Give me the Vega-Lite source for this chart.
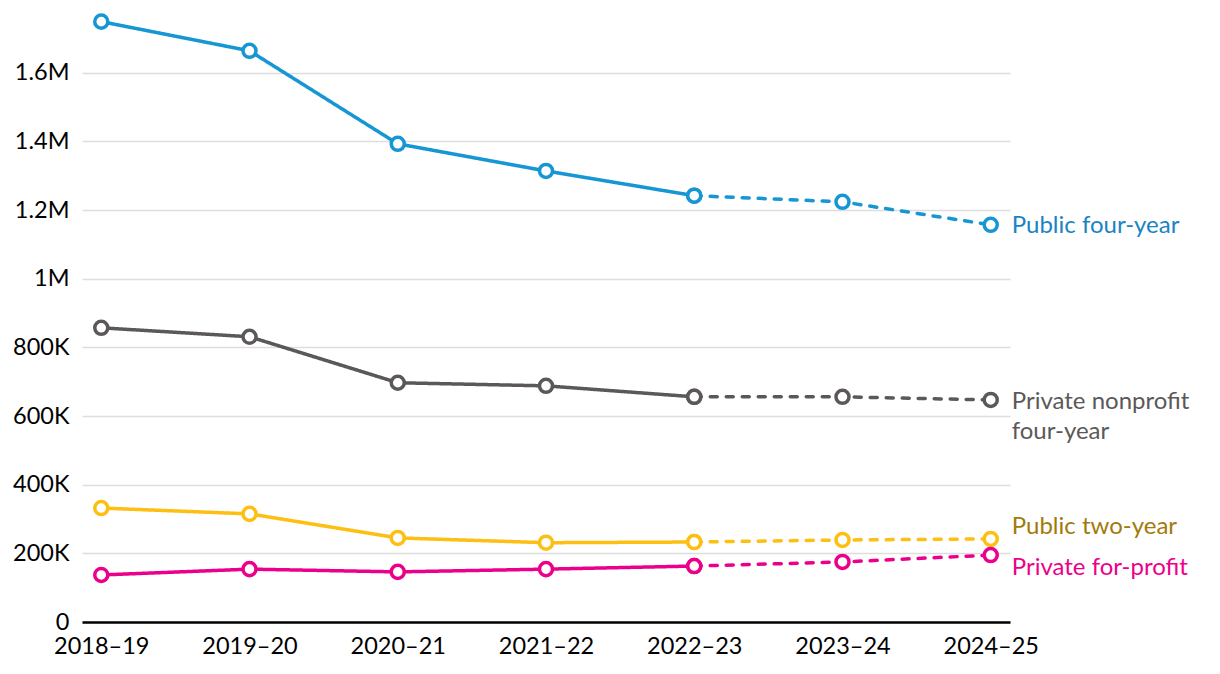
{
  "$schema": "https://vega.github.io/schema/vega-lite/v6.json",
  "autosize": {"type": "none"},
  "padding": {"left": 82, "top": 11, "right": 210, "bottom": 52},
  "width": 928,
  "height": 611,
  "background": "white",
  "config": {
    "font": "Lato",
    "view": {"stroke": null}
  },
  "data": {
    "values": [
      {"series": "Public four-year", "year": "2018–19", "seg": "actual", "value": 1749000},
      {"series": "Public four-year", "year": "2019–20", "seg": "actual", "value": 1664000},
      {"series": "Public four-year", "year": "2020–21", "seg": "actual", "value": 1393000},
      {"series": "Public four-year", "year": "2021–22", "seg": "actual", "value": 1314000},
      {"series": "Public four-year", "year": "2022–23", "seg": "actual", "value": 1242000},
      {"series": "Public four-year", "year": "2022–23", "seg": "projected", "value": 1242000},
      {"series": "Public four-year", "year": "2023–24", "seg": "projected", "value": 1224000},
      {"series": "Public four-year", "year": "2024–25", "seg": "projected", "value": 1157000},
      {"series": "Private nonprofit four-year", "year": "2018–19", "seg": "actual", "value": 857000},
      {"series": "Private nonprofit four-year", "year": "2019–20", "seg": "actual", "value": 831000},
      {"series": "Private nonprofit four-year", "year": "2020–21", "seg": "actual", "value": 697000},
      {"series": "Private nonprofit four-year", "year": "2021–22", "seg": "actual", "value": 688000},
      {"series": "Private nonprofit four-year", "year": "2022–23", "seg": "actual", "value": 656000},
      {"series": "Private nonprofit four-year", "year": "2022–23", "seg": "projected", "value": 656000},
      {"series": "Private nonprofit four-year", "year": "2023–24", "seg": "projected", "value": 656000},
      {"series": "Private nonprofit four-year", "year": "2024–25", "seg": "projected", "value": 647000},
      {"series": "Public two-year", "year": "2018–19", "seg": "actual", "value": 332000},
      {"series": "Public two-year", "year": "2019–20", "seg": "actual", "value": 315000},
      {"series": "Public two-year", "year": "2020–21", "seg": "actual", "value": 245000},
      {"series": "Public two-year", "year": "2021–22", "seg": "actual", "value": 231000},
      {"series": "Public two-year", "year": "2022–23", "seg": "actual", "value": 233000},
      {"series": "Public two-year", "year": "2022–23", "seg": "projected", "value": 233000},
      {"series": "Public two-year", "year": "2023–24", "seg": "projected", "value": 239000},
      {"series": "Public two-year", "year": "2024–25", "seg": "projected", "value": 242000},
      {"series": "Private for-profit", "year": "2018–19", "seg": "actual", "value": 137000},
      {"series": "Private for-profit", "year": "2019–20", "seg": "actual", "value": 154000},
      {"series": "Private for-profit", "year": "2020–21", "seg": "actual", "value": 146000},
      {"series": "Private for-profit", "year": "2021–22", "seg": "actual", "value": 154000},
      {"series": "Private for-profit", "year": "2022–23", "seg": "actual", "value": 163000},
      {"series": "Private for-profit", "year": "2022–23", "seg": "projected", "value": 163000},
      {"series": "Private for-profit", "year": "2023–24", "seg": "projected", "value": 175000},
      {"series": "Private for-profit", "year": "2024–25", "seg": "projected", "value": 195000}
    ]
  },
  "encoding": {
    "x": {
      "field": "year", "type": "ordinal",
      "scale": {"type": "point", "padding": 0.13},
      "axis": {
        "title": null, "labelAngle": 0, "labelFontSize": 23.5, "labelColor": "#000000",
        "labelFont": "Lato", "labelPadding": 12,
        "ticks": false, "domainColor": "#000000", "domainWidth": 2.5, "grid": false
      }
    },
    "y": {
      "field": "value", "type": "quantitative",
      "scale": {"domain": [0, 1780000], "nice": false},
      "axis": {
        "title": null,
        "values": [0, 200000, 400000, 600000, 800000, 1000000, 1200000, 1400000, 1600000],
        "labelExpr": "datum.value == 0 ? '0' : (datum.value >= 1000000 ? format(datum.value / 1000000, '~g') + 'M' : format(datum.value / 1000, '~g') + 'K')",
        "labelFontSize": 23.5, "labelColor": "#000000", "labelFont": "Lato", "labelPadding": 13,
        "ticks": false, "domain": false, "grid": true, "gridColor": "#dedddd", "gridWidth": 1.5
      }
    },
    "color": {
      "field": "series", "type": "nominal", "legend": null,
      "scale": {
        "domain": ["Public four-year", "Private nonprofit four-year", "Public two-year", "Private for-profit"],
        "range": ["#1696d2", "#5c5859", "#fdbf11", "#ec008b"]
      }
    }
  },
  "layer": [
    {
      "mark": {"type": "line", "strokeWidth": 3.5, "strokeCap": "round"},
      "encoding": {
        "detail": {"field": "seg"},
        "strokeDash": {
          "field": "seg", "type": "nominal", "legend": null,
          "scale": {"domain": ["actual", "projected"], "range": [[1, 0], [7, 9]]}
        }
      }
    },
    {
      "mark": {"type": "point", "filled": true, "fill": "white", "size": 170, "strokeWidth": 3.5, "opacity": 1},
      "encoding": {"stroke": {"field": "series", "type": "nominal", "legend": null,
        "scale": {
          "domain": ["Public four-year", "Private nonprofit four-year", "Public two-year", "Private for-profit"],
          "range": ["#1696d2", "#5c5859", "#fdbf11", "#ec008b"]
        }}}
    },
    {
      "transform": [{"filter": "datum.year == '2024–25' && datum.series == 'Public four-year'"}],
      "mark": {"type": "text", "align": "left", "baseline": "middle", "dx": 21, "dy": 1, "fontSize": 24, "font": "Lato"},
      "encoding": {"text": {"value": "Public four-year"}, "color": {"value": "#1a84c2"}}
    },
    {
      "transform": [{"filter": "datum.year == '2024–25' && datum.series == 'Private nonprofit four-year'"}],
      "mark": {"type": "text", "align": "left", "baseline": "middle", "dx": 21, "dy": 2, "fontSize": 24, "font": "Lato", "lineHeight": 30},
      "encoding": {"text": {"value": ["Private nonprofit", "four-year"]}, "color": {"value": "#5c5859"}}
    },
    {
      "transform": [{"filter": "datum.year == '2024–25' && datum.series == 'Public two-year'"}],
      "mark": {"type": "text", "align": "left", "baseline": "middle", "dx": 21, "dy": -12, "fontSize": 24, "font": "Lato"},
      "encoding": {"text": {"value": "Public two-year"}, "color": {"value": "#a27a0a"}}
    },
    {
      "transform": [{"filter": "datum.year == '2024–25' && datum.series == 'Private for-profit'"}],
      "mark": {"type": "text", "align": "left", "baseline": "middle", "dx": 21, "dy": 13, "fontSize": 24, "font": "Lato"},
      "encoding": {"text": {"value": "Private for-profit"}, "color": {"value": "#ec008b"}}
    }
  ]
}
